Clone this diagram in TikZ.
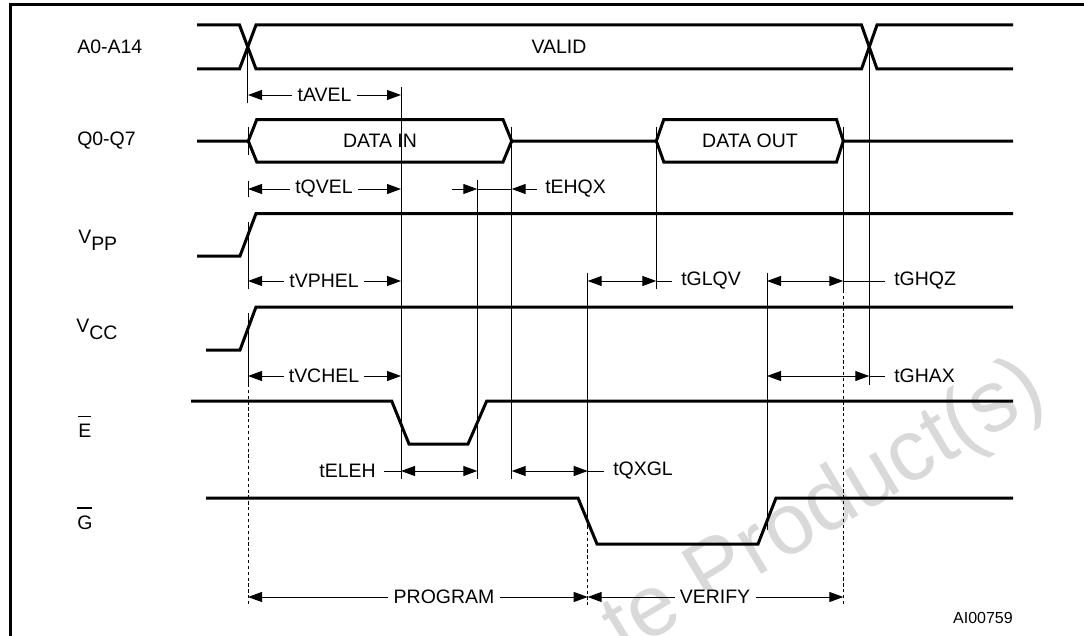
\documentclass[tikz,border=0pt]{standalone}
\usepackage{fontspec}
\setmainfont{Liberation Sans}
\usetikzlibrary{arrows.meta}
\newcommand\ovbar[1]{\vbox{\hrule height 1pt\kern 5pt\hbox{#1}}}
\begin{document}
\begin{tikzpicture}[x=0.75pt,y=-0.75pt,
  sig/.style={line width=2.25pt, line join=miter},
  thin/.style={line width=0.75pt},
  dotl/.style={line width=0.75pt, dash pattern=on 2.4pt off 2pt},
  tipr/.style={thin, -{Triangle[length=10.5pt,width=7.5pt]}},
  dbl/.style={thin, {Triangle[length=10.5pt,width=7.5pt]}-{Triangle[length=10.5pt,width=7.5pt]}},
  lbl/.style={font=\fontsize{14.6}{16}\selectfont, inner sep=0pt},
  tl/.style={lbl, fill=white, inner xsep=4pt},
  wm/.style={font=\fontsize{65}{70}\selectfont, text=black!15, inner sep=0pt}]
\useasboundingbox (0,0) rectangle (1084,635);
\clip (0,0) rectangle (1084,635);
% watermark
\node[wm, rotate=31, anchor=base west] (wmark) at (624,657) {te Product(s)};
% frame
\draw[line width=2.25pt, line join=miter] (10,650) -- (10,5) -- (1100,5);
% signal names
\node[lbl, anchor=west] (nA) at (77,47) {A0-A14};
\node[lbl, anchor=west] (nQ) at (77,141) {Q0-Q7};
\node[lbl, anchor=base west] (nVPP) at (78,243) {V\raisebox{-5.25pt}{PP}};
\node[lbl, anchor=base west] (nVCC) at (76,332) {V\raisebox{-5.25pt}{CC}};
\node[lbl, anchor=base west] (nE) at (78,437) {\ovbar{E}};
\node[lbl, anchor=base west] (nG) at (77,529) {\ovbar{G}};
% A0-A14
\draw[sig] (197,25) -- (239.5,25) -- (256,69) -- (861.5,69) -- (877,25) -- (1013,25);
\draw[sig] (197,69) -- (239.5,69) -- (256,25) -- (861.5,25) -- (877,69) -- (1013,69);
\node[lbl] (valid) at (559,47) {VALID};
\coordinate (ax1) at (247.75,47);
\coordinate (ax2) at (869.25,47);
% Q0-Q7
\draw[sig] (197,141) -- (248.3,141) -- (256.8,119.5) -- (503,119.5) -- (511.7,141) -- (656.3,141) -- (663.8,119.5) -- (836.5,119.5) -- (843.3,141) -- (1013,141);
\draw[sig] (248.3,141) -- (256.8,162) -- (503,162) -- (511.7,141);
\draw[sig] (656.3,141) -- (663.8,162) -- (836.5,162) -- (843.3,141);
\node[lbl] (din) at (380,141) {DATA IN};
\node[lbl] (dout) at (750,141) {DATA OUT};
% VPP, VCC
\draw[sig] (197,256) -- (240,256) -- (256,213.5) -- (1013,213.5);
\draw[sig] (206,350) -- (240,350) -- (256,307) -- (1013,307);
% E bar
\draw[sig] (191,401) -- (391.7,401) -- (409,444) -- (468,444) -- (486.7,401) -- (1013,401);
% G bar
\draw[sig] (206,498) -- (578,498) -- (597,544) -- (758,544) -- (776,498) -- (1013,498);
% reference lines
\draw[thin] (ax1) -- (247.75,103);
\draw[thin] (248,127) -- (248,155);
\draw[thin] (248,181) -- (248,197);
\draw[thin] (248,222) -- (248,289);
\draw[thin] (248,313) -- (248,384);
\draw[dotl] (248,384) -- (248,605);
\draw[thin] (401,87) -- (401,479);
\draw[thin] (477.3,180) -- (477.3,479);
\draw[thin] (511.7,127) -- (511.7,479);
\draw[thin] (587.7,273) -- (587.7,526);
\draw[dotl] (587.7,526) -- (587.7,605);
\draw[thin] (656.3,127) -- (656.3,289);
\draw[thin] (767,273) -- (767,530);
\draw[thin] (843.3,127) -- (843.3,290);
\draw[dotl] (843.3,290) -- (843.3,605);
\draw[thin] (ax2) -- (869.25,385);
% timing arrows
\draw[dbl] (248,95) -- (401,95);
\node[tl] (tAVEL) at (324.5,95) {tAVEL};
\draw[dbl] (248,189) -- (401,189);
\node[tl] (tQVEL) at (324,189) {tQVEL};
\draw[tipr] (452,189) -- (477.3,189);
\draw[thin] (477.3,189) -- (511.7,189);
\draw[tipr] (537,189) -- (511.7,189);
\node[lbl, anchor=west] (tEHQX) at (545,189) {tEHQX};
\draw[dbl] (248,281) -- (401,281);
\node[tl] (tVPHEL) at (324,281) {tVPHEL};
\draw[dbl] (587.7,281) -- (656.3,281);
\draw[thin] (656.3,281) -- (672,281);
\node[lbl, anchor=west] (tGLQV) at (681,281) {tGLQV};
\draw[dbl] (767,281) -- (843.3,281);
\draw[thin] (843.3,281) -- (885,281);
\node[lbl, anchor=west] (tGHQZ) at (894,281) {tGHQZ};
\draw[dbl] (248,376) -- (401,376);
\node[tl] (tVCHEL) at (324,376) {tVCHEL};
\draw[dbl] (767,376) -- (869.25,376);
\draw[thin] (869.25,376) -- (885,376);
\node[lbl, anchor=west] (tGHAX) at (894,376) {tGHAX};
\draw[dbl] (401,471) -- (477.3,471);
\draw[thin] (384,471) -- (401,471);
\node[lbl, anchor=east] (tELEH) at (376,471) {tELEH};
\draw[dbl] (511.7,471) -- (587.7,471);
\draw[thin] (587.7,471) -- (604,471);
\node[lbl, anchor=west] (tQXGL) at (613,471) {tQXGL};
\draw[dbl] (248,597) -- (587.7,597);
\node[tl] (prog) at (444,597) {PROGRAM};
\draw[dbl] (587.7,597) -- (843.3,597);
\node[tl] (verify) at (715,597) {VERIFY};
\node[font=\fontsize{12}{14}\selectfont, inner sep=0pt, anchor=base east] (code) at (1013,623) {AI00759};
\end{tikzpicture}
\end{document}
